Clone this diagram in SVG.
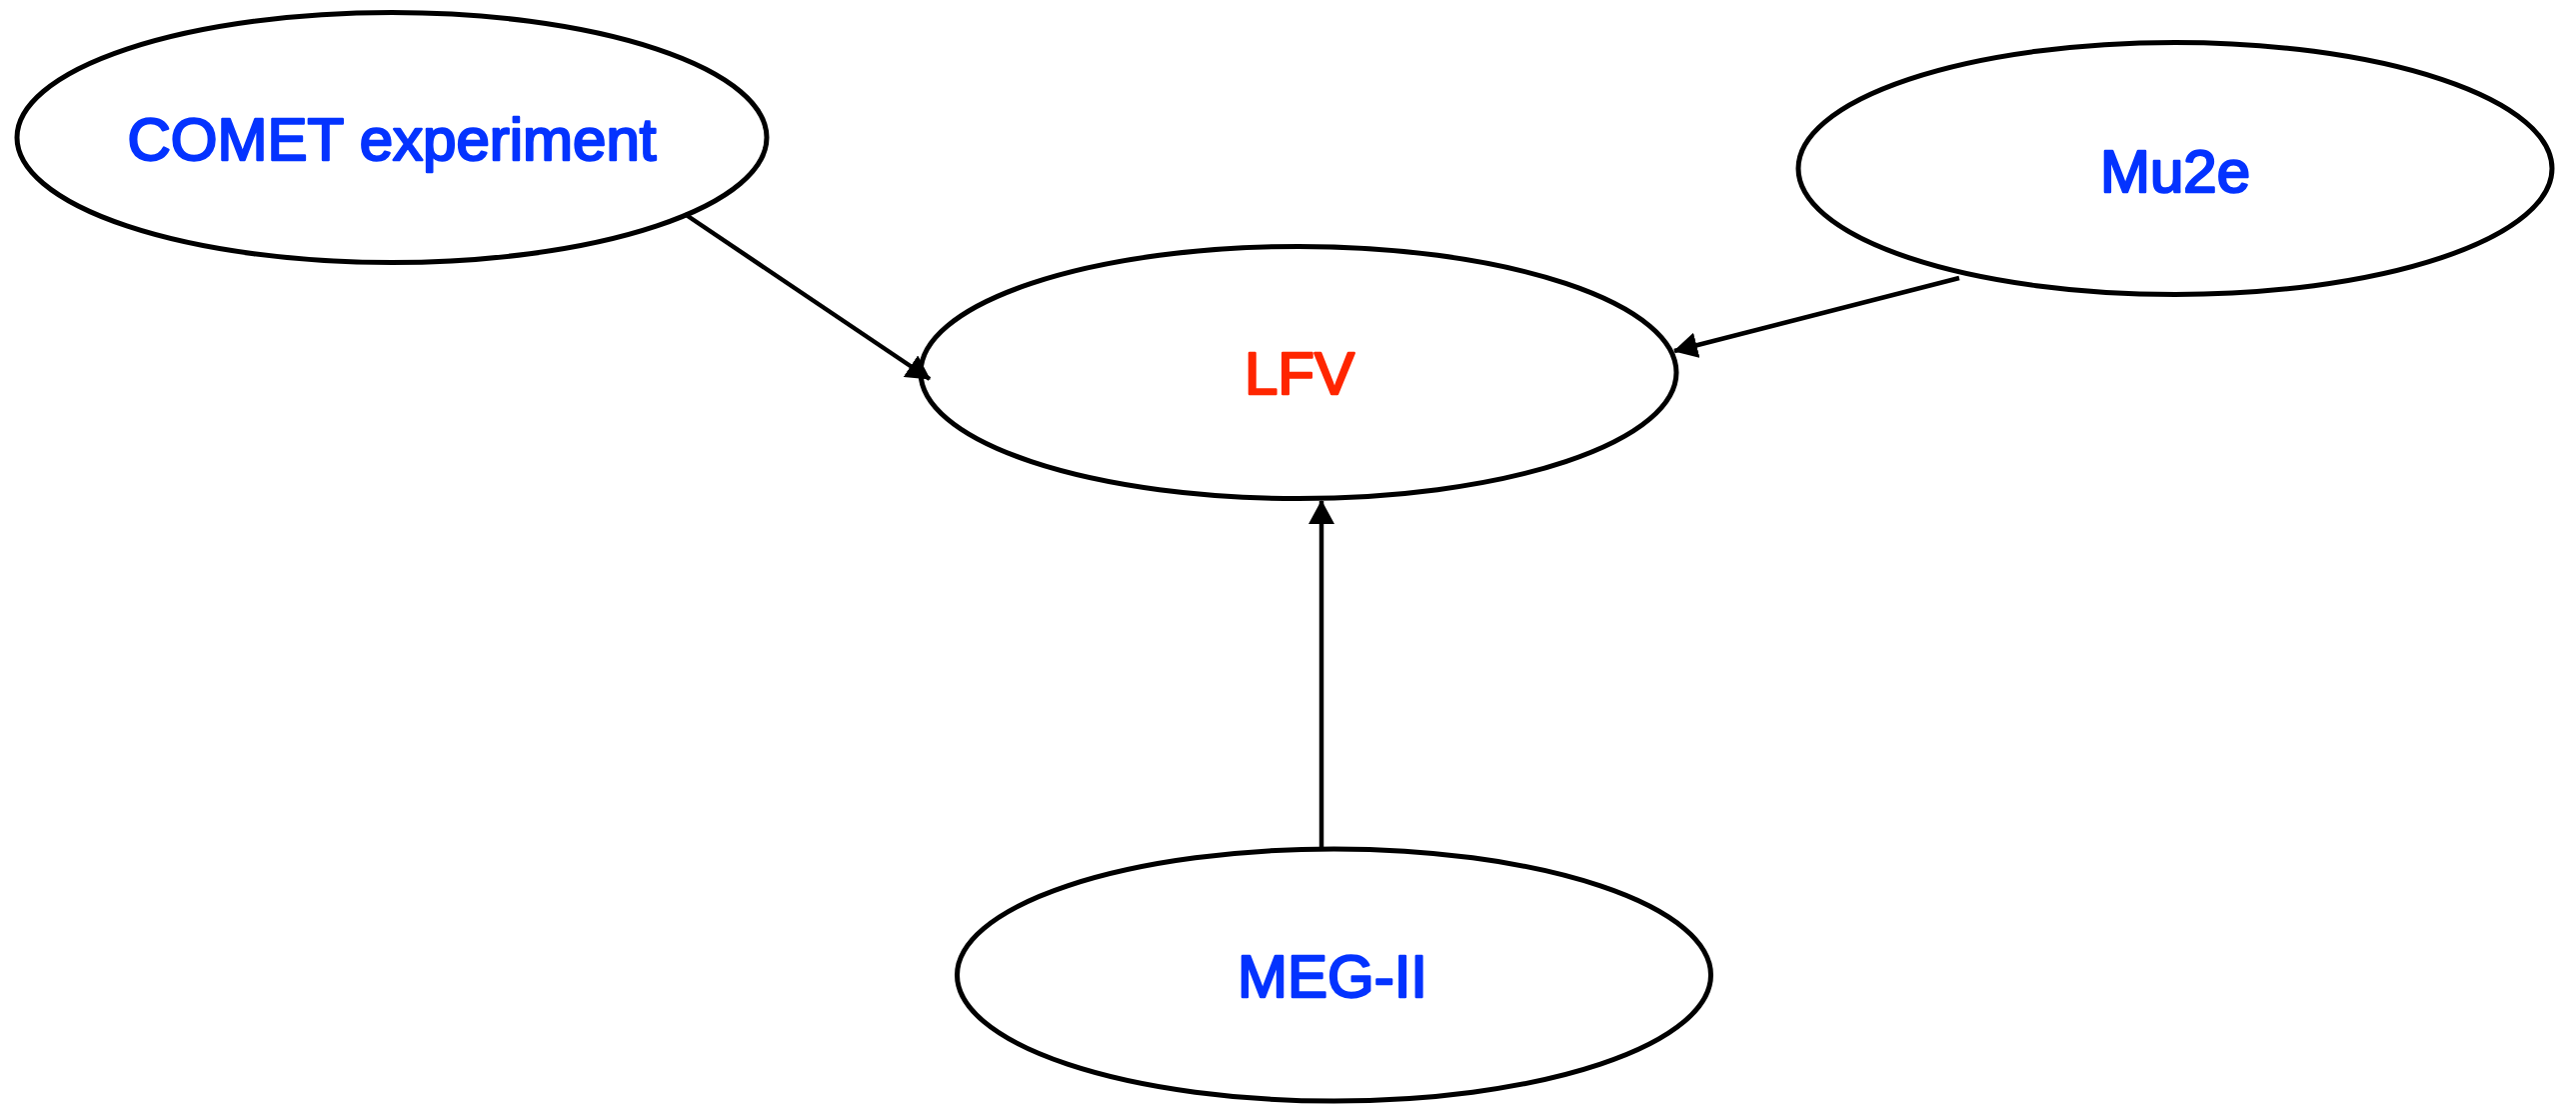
<svg xmlns="http://www.w3.org/2000/svg" width="2577" height="1106" viewBox="0 0 2577 1106">
  <style>
    .node { fill: #ffffff; stroke: #000000; stroke-width: 5; }
    .lbl { font-family: "Liberation Sans", Arial, Helvetica, sans-serif; font-size: 60px; text-anchor: middle; stroke-width: 2.4; stroke-linejoin: round; }
    .blue { fill: #0433FF; stroke: #0433FF; }
    .red { fill: #FF2600; stroke: #FF2600; }
    .edge { stroke: #000000; stroke-width: 4.5; fill: none; marker-end: url(#arrow); }
  </style>
  <defs>
    <marker id="arrow" markerUnits="userSpaceOnUse" markerWidth="24" markerHeight="26" viewBox="0 0 24 26" refX="23" refY="13" orient="auto">
      <path d="M0,0 L24,13 L0,26 Z" fill="#000000"/>
    </marker>
  </defs>
  <rect width="2577" height="1106" fill="#ffffff"/>

  <g id="node-comet">
    <ellipse class="node" cx="392" cy="137.5" rx="375" ry="125"/>
    <text class="lbl blue" x="392" y="160">COMET experiment</text>
  </g>
  <g id="node-lfv">
    <ellipse class="node" cx="1299" cy="372.5" rx="378" ry="126"/>
    <text class="lbl red" x="1300" y="394">LFV</text>
  </g>
  <g id="node-mu2e">
    <ellipse class="node" cx="2176" cy="168.5" rx="377" ry="126"/>
    <text class="lbl blue" x="2176" y="192">Mu2e</text>
  </g>
  <g id="node-meg2">
    <ellipse class="node" cx="1334.5" cy="975" rx="377" ry="126"/>
    <text class="lbl blue" x="1333" y="997">MEG-II</text>
  </g>

  <g id="connectors">
    <line class="edge" x1="685" y1="214" x2="930" y2="379"/>
    <line class="edge" x1="1960" y1="278" x2="1675" y2="351"/>
    <line class="edge" x1="1322" y1="849" x2="1322" y2="501"/>
  </g>
</svg>
